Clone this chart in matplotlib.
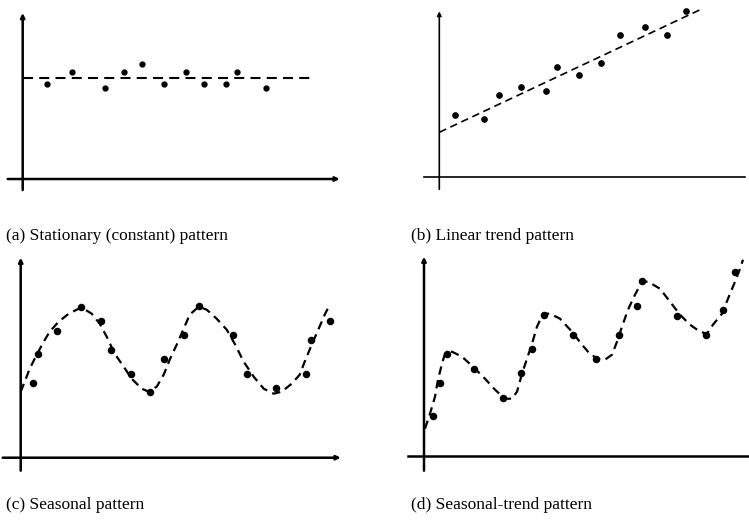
import matplotlib
matplotlib.use("Agg")
import matplotlib.pyplot as plt

plt.rcParams['font.family'] = ['Liberation Serif', 'DejaVu Serif']

W, H = 749, 525
PX = 10.0  # pixels per data unit in every panel

# (a) stationary pattern
t_a = [2.4, 4.9, 8.2, 10.1, 11.9, 14.1, 16.3, 18.1, 20.3, 21.4, 24.3]
y_a = [9.5, 10.7, 9.1, 10.7, 11.5, 9.5, 10.7, 9.5, 9.5, 10.7, 9.1]
level_a = 10.1
fit_t_a = [0.0, 29.2]

# (b) linear trend pattern
t_b = [1.6, 4.5, 6.0, 8.2, 10.7, 11.8, 14.0, 16.2, 18.1, 20.6, 22.8, 24.7]
y_b = [6.2, 5.8, 8.2, 9.0, 8.6, 11.0, 10.2, 11.4, 14.2, 15.0, 14.2, 16.6]
intercept_b = 4.5
slope_b = 0.47
fit_t_b = [0.0, 26.3]

# (c) seasonal pattern
t_c = [1.2, 1.7, 3.6, 6.0, 8.0, 9.0, 11.0, 12.9, 14.3, 16.3, 17.8, 21.2, 22.6, 25.5, 28.5, 29.0, 30.9]
y_c = [7.5, 10.4, 12.7, 15.1, 13.7, 10.8, 8.4, 6.6, 9.9, 12.3, 15.2, 12.3, 8.4, 7.0, 8.4, 11.8, 13.7]
curve_t_c = [0.0, 0.4, 0.9, 1.6, 2.3, 2.9, 3.8, 4.8, 5.8, 6.3, 7.1, 7.9, 8.6, 9.4, 10.3, 11.1, 12.1,
             12.8, 13.6, 14.3, 14.9, 15.6, 16.3, 16.9, 17.8, 18.6, 19.6, 20.6, 21.4, 22.3, 23.3, 24.3,
             25.3, 26.1, 27.1, 27.9, 28.4, 29.1, 29.8, 30.4, 30.7]
curve_y_c = [6.6, 7.6, 8.9, 10.3, 11.6, 12.6, 13.6, 14.4, 14.9, 14.9, 14.4, 13.4, 12.1, 10.4, 9.1, 7.9, 6.9,
             6.6, 7.1, 8.3, 9.8, 11.3, 12.9, 14.3, 15.1, 14.8, 13.9, 12.8, 11.4, 9.6, 8.1, 6.9,
             6.4, 6.6, 7.4, 8.3, 9.6, 11.3, 12.9, 14.3, 14.9]

# (d) seasonal-trend pattern
t_d = [0.9, 1.6, 2.3, 5.0, 7.9, 9.7, 10.8, 12.0, 14.9, 17.2, 19.5, 21.3, 21.8, 25.3, 28.2, 29.9, 31.1]
y_d = [4.0, 7.3, 10.2, 8.7, 5.8, 8.3, 10.7, 14.1, 12.1, 9.7, 12.1, 15.0, 17.5, 14.0, 12.1, 14.6, 18.4]
curve_t_d = [0.1, 0.6, 1.1, 1.4, 1.8, 2.1, 2.8, 3.8, 4.9, 6.1, 7.1, 8.1, 8.8, 9.3, 9.8, 10.3, 10.8,
             11.3, 11.9, 12.6, 13.6, 14.8, 15.8, 16.4, 17.3, 18.1, 18.8, 19.3, 19.8, 20.4, 21.1, 21.8,
             22.4, 23.6, 24.6, 25.6, 26.6, 27.6, 28.3, 28.9, 29.8, 30.4, 31.1, 31.6, 31.9]
curve_y_d = [2.7, 4.2, 5.9, 7.6, 9.2, 10.2, 10.4, 9.9, 8.9, 7.7, 6.6, 5.7, 5.7, 6.4, 8.2, 9.7, 11.2,
             12.9, 14.2, 14.2, 13.7, 12.4, 11.1, 10.4, 9.7, 9.6, 10.1, 11.4, 12.9, 14.6, 16.1, 17.4,
             17.4, 16.7, 15.4, 14.1, 13.1, 12.4, 12.2, 13.1, 14.2, 15.7, 17.4, 18.7, 19.6]

labels = ["(a) Stationary (constant) pattern", "(b) Linear trend pattern",
          "(c) Seasonal pattern", "(d) Seasonal-trend pattern"]

fig = plt.figure(figsize=(W / 100, H / 100), dpi=100)


def panel(left, top, w, h, ox, oy):
    # axes placed in pixel space; data origin at pixel (ox, oy)
    ax = fig.add_axes([left / W, 1 - (top + h) / H, w / W, h / H])
    ax.set_xlim((left - ox) / PX, (left + w - ox) / PX)
    ax.set_ylim((oy - top - h) / PX, (oy - top) / PX)
    ax.axis('off')
    return ax


def axes_lines(ax, x0, x1, y0, y1, lw, xarrow=True):
    arr = dict(arrowstyle='-|>', lw=lw, color='black', mutation_scale=6, shrinkA=0, shrinkB=0)
    ax.annotate('', xy=(0, y1), xytext=(0, y0), arrowprops=arr, annotation_clip=False)
    if xarrow:
        ax.annotate('', xy=(x1, 0), xytext=(x0, 0), arrowprops=arr, annotation_clip=False)
    else:
        ax.plot([x0, x1], [0, 0], color='black', lw=lw, clip_on=False)


# (a)
ax = panel(0, 0, 374, 200, 22.7, 179)
axes_lines(ax, -1.5, 31.7, -1.1, 16.6, 1.8)
ax.plot(fit_t_a, [level_a, level_a], color='black', lw=1.5, dashes=(4.8, 3.0))
ax.plot(t_a, y_a, 'o', color='black', ms=3.5)

# (b)
ax = panel(400, 0, 349, 200, 439.3, 177.3)
axes_lines(ax, -1.5, 30.6, -1.2, 16.6, 1.2, xarrow=False)
ax.plot(fit_t_b, [intercept_b + slope_b * t for t in fit_t_b], color='black', lw=1.2, dashes=(4.5, 2.8))
ax.plot(t_b, y_b, 'o', color='black', ms=3.8)

# (c)
ax = panel(0, 250, 374, 230, 20.7, 457.7)
axes_lines(ax, -1.8, 32.0, -1.3, 20.0, 1.8)
ax.plot(curve_t_c, curve_y_c, color='black', lw=1.6, dashes=(3.8, 2.5))
ax.plot(t_c, y_c, 'o', color='black', ms=4.4)

# (d)
ax = panel(390, 250, 359, 230, 424, 455.7)
axes_lines(ax, -1.6, 32.4, -1.5, 19.9, 1.8, xarrow=False)
ax.plot(curve_t_d, curve_y_d, color='black', lw=1.6, dashes=(3.8, 2.5))
ax.plot(t_d, y_d, 'o', color='black', ms=4.4)

# captions under each panel
for (x, y), s in zip([(6, 236), (411, 236), (6, 505), (411, 505)], labels):
    fig.text(x / W, 1 - y / H, s, fontsize=12.5, ha='left', va='center')

fig.savefig("out.png", dpi=100)
